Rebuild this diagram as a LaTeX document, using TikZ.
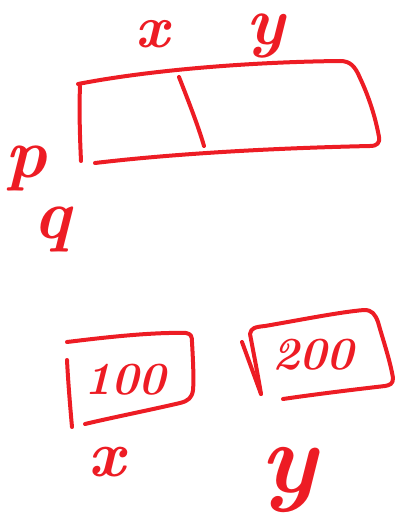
\documentclass[tikz,border=0pt]{standalone}
\definecolor{ink}{HTML}{ED1C24}
\tikzset{
  stroke/.style={draw=ink, line width=4pt, line cap=round, line join=round},
  hand/.style={text=ink, inner sep=1pt, font=#1},
}
\newcommand{\fsz}[1]{\fontsize{#1}{#1}\selectfont\bfseries\itshape}
\begin{document}
\begin{tikzpicture}[x=1pt,y=-1pt]
\useasboundingbox (0,0) rectangle (394,529);
% big box
\draw[stroke] (78,84) .. controls (150,70) and (250,62) .. (340,61)
  .. controls (350,61) and (355,66) .. (360,78)
  .. controls (368,95) and (375,115) .. (379,137)
  .. controls (380,143) and (377,146) .. (370,146);
\draw[stroke] (80,86) .. controls (79,110) and (80,140) .. (81,161);
\draw[stroke] (95,163) .. controls (180,153) and (280,148) .. (370,146);
\draw[stroke] (179,77) .. controls (186,95) and (198,125) .. (204,146);
% box 1
\draw[stroke] (67,342) .. controls (100,338) and (150,332) .. (186,333)
  .. controls (191,334) and (192,336) .. (192,342)
  .. controls (193,360) and (194,380) .. (193,390)
  .. controls (192,398) and (188,401) .. (180,403)
  .. controls (150,410) and (110,418) .. (85,424);
\draw[stroke] (67,360) .. controls (68,380) and (70,405) .. (72,427);
% box 2
\draw[stroke] (242,342) -- (261,394);
\draw[stroke] (261,394) .. controls (257,370) and (253,350) .. (250,334)
  .. controls (251,328) and (255,327) .. (265,326)
  .. controls (300,320) and (340,312) .. (364,310)
  .. controls (372,310) and (375,314) .. (378,322)
  .. controls (383,340) and (390,360) .. (393,378)
  .. controls (393,384) and (390,385) .. (385,386)
  .. controls (350,390) and (310,395) .. (283,399);
% texts
\node[hand=\fsz{60}] (tx) at (152,34) {x};
\node[hand=\fsz{68}] (ty) at (266,36) {y};
\node[hand=\fsz{70}] (p) at (26,168) {p};
\node[hand=\fsz{70}] (q) at (52,229) {q};
\node[hand=\fsz{46}] (v1) at (125,380) {100};
\node[hand=\fsz{46}] (v2) at (313,355) {200};
\node[hand=\fsz{65}] (bx) at (107,462) {x};
\node[hand=\fsz{100}] (by) at (289,480) {y};
\end{tikzpicture}
\end{document}
